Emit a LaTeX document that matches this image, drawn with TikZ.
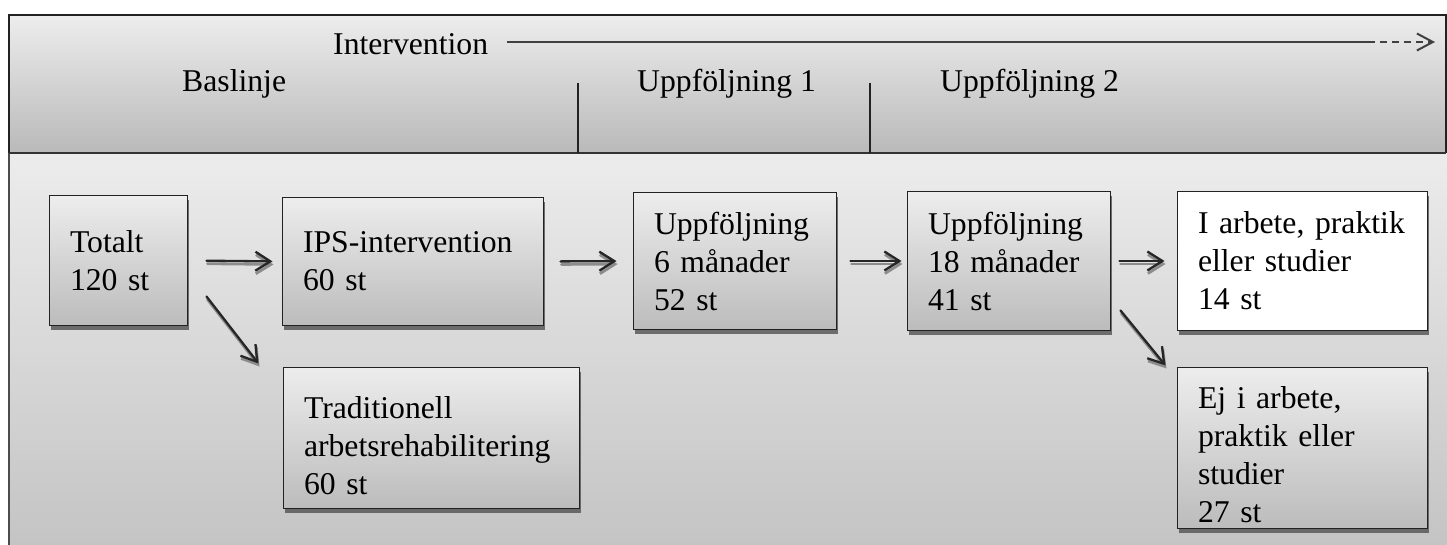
\documentclass[tikz,border=0pt]{standalone}
\usepackage{fontspec}
\setmainfont{Liberation Serif}
\usetikzlibrary{arrows.meta,shadows}
\definecolor{hdrtop}{HTML}{EDEDED}
\definecolor{hdrbot}{HTML}{B9B9B9}
\definecolor{bgtop}{HTML}{ECECEC}
\definecolor{bgbot}{HTML}{C4C4C4}
\definecolor{boxtop}{HTML}{EDEDED}
\definecolor{boxbot}{HTML}{BCBCBC}
\definecolor{ink}{HTML}{222222}
\newcommand{\ind}{\hspace*{8pt}}
\frenchspacing
\begin{document}
\begin{tikzpicture}[x=1pt,y=-1pt,
  txt/.style={font=\fontsize{31.7}{38}\selectfont, inner sep=0pt, text=black},
  box/.style={draw=ink, line width=1pt, top color=boxtop, bottom color=boxbot,
    drop shadow={shadow xshift=1.5pt, shadow yshift=-4.5pt, fill=black!65, opacity=0.85},
    align=left, inner xsep=13pt, inner ysep=0pt, anchor=center,
    font=\fontsize{31.7}{38}\selectfont},
  whitebox/.style={box, top color=white, bottom color=white},
  flow/.style={draw=black!85, line width=2.3pt, line cap=round,
    -{Straight Barb[length=15pt,width=19pt,line width=2.3pt]}},
  flowsh/.style={flow, draw=black!45, line width=2.8pt,
    -{Straight Barb[length=15pt,width=19pt,line width=2.8pt]},
    transform canvas={shift={(1pt,-3pt)}}},
  intline/.style={draw=black!75, line width=2pt},
  tickline/.style={draw=ink, line width=1.3pt}]
\useasboundingbox (0,0) rectangle (1447,545);
% background panels
\fill[top color=bgtop, bottom color=bgbot] (9,154) rectangle (1447,545);
\draw[line width=1.5pt, draw=black!70] (9,153) -- (9,545);
\fill[top color=hdrtop, bottom color=hdrbot] (9,15) rectangle (1446,153);
\draw[line width=1.4pt, draw=ink] (9,153) -- (9,15) -- (1446,15) -- (1446,153);
\draw[line width=2.4pt, draw=black!80] (9,153) -- (1446,153);
% header ticks
\draw[tickline] (578,83) -- (578,153);
\draw[tickline] (870,83) -- (870,153);
% header texts
\node[txt, anchor=base west] (intervention) at (333,55) {Intervention};
\node[txt, anchor=base west] (baslinje) at (182,92) {Baslinje};
\node[txt, anchor=base west] (uppf1) at (637,92) {Uppföljning 1};
\node[txt, anchor=base west] (uppf2) at (940,92) {Uppföljning 2};
% intervention arrow
\coordinate (intstart) at (507,42);
\coordinate (intdash) at (1368,42);
\coordinate (intend) at (1435,42);
\draw[intline] (intstart) -- (intdash);
\draw[intline, dash pattern=on 7pt off 5pt, line width=1.8pt,
  -{Straight Barb[length=16pt,width=17pt,line width=2pt]}] (intdash) -- (intend);
% boxes (text width = width - 26, left pad 13 + 8)
\node[box, minimum width=138pt, minimum height=129pt, text width=112pt] (totalt) at (118,260.5) {\ind Totalt\\\ind 120 st};
\node[box, minimum width=261pt, minimum height=127pt, text width=235pt] (ips) at (412.5,261.5) {\ind IPS-intervention\\\ind 60 st};
\node[box, minimum width=296pt, minimum height=141pt, text width=270pt] (trad) at (431,437.5) {\ind\rule{0pt}{38pt}Traditionell\\\ind arbetsrehabilitering\\\ind 60 st};
\node[box, minimum width=203pt, minimum height=136pt, text width=177pt] (uppf6) at (734.5,261) {\ind Uppföljning\\\ind 6 månader\\\ind 52 st};
\node[box, minimum width=203pt, minimum height=138pt, text width=177pt] (uppf18) at (1008.5,261) {\ind Uppföljning\\\ind 18 månader\\\ind 41 st};
\node[whitebox, minimum width=250pt, minimum height=138pt, text width=224pt] (iarb) at (1302,261) {\ind I arbete, praktik\\\ind eller studier\\\ind 14 st};
\node[box, minimum width=250pt, minimum height=161pt, text width=224pt] (ej) at (1302,447.5) {\ind\rule{0pt}{36pt}Ej i arbete,\\\ind praktik eller\\\ind studier\\\ind 27 st};
% connectors (shadow copy first, then the arrow)
\draw[flowsh, shorten <=19pt, shorten >=9pt] (totalt.east) -- (ips.west);
\draw[flow, shorten <=19pt, shorten >=9pt] (totalt.east) -- (ips.west);
\draw[flowsh] ([shift={(19,-29)}]totalt.south east) -- ([shift={(-24,-3)}]trad.north west);
\draw[flow] ([shift={(19,-29)}]totalt.south east) -- ([shift={(-24,-3)}]trad.north west);
\draw[flowsh, shorten <=17pt, shorten >=16pt] (ips.east) -- (uppf6.west);
\draw[flow, shorten <=17pt, shorten >=16pt] (ips.east) -- (uppf6.west);
\draw[flowsh, shorten <=14pt, shorten >=5pt] (uppf6.east) -- (uppf18.west);
\draw[flow, shorten <=14pt, shorten >=5pt] (uppf6.east) -- (uppf18.west);
\draw[flowsh, shorten <=9pt, shorten >=12pt] (uppf18.east) -- (iarb.west);
\draw[flow, shorten <=9pt, shorten >=12pt] (uppf18.east) -- (iarb.west);
\draw[flowsh] ([shift={(10,-20)}]uppf18.south east) -- ([shift={(-11,-1)}]ej.north west);
\draw[flow] ([shift={(10,-20)}]uppf18.south east) -- ([shift={(-11,-1)}]ej.north west);
\end{tikzpicture}
\end{document}
